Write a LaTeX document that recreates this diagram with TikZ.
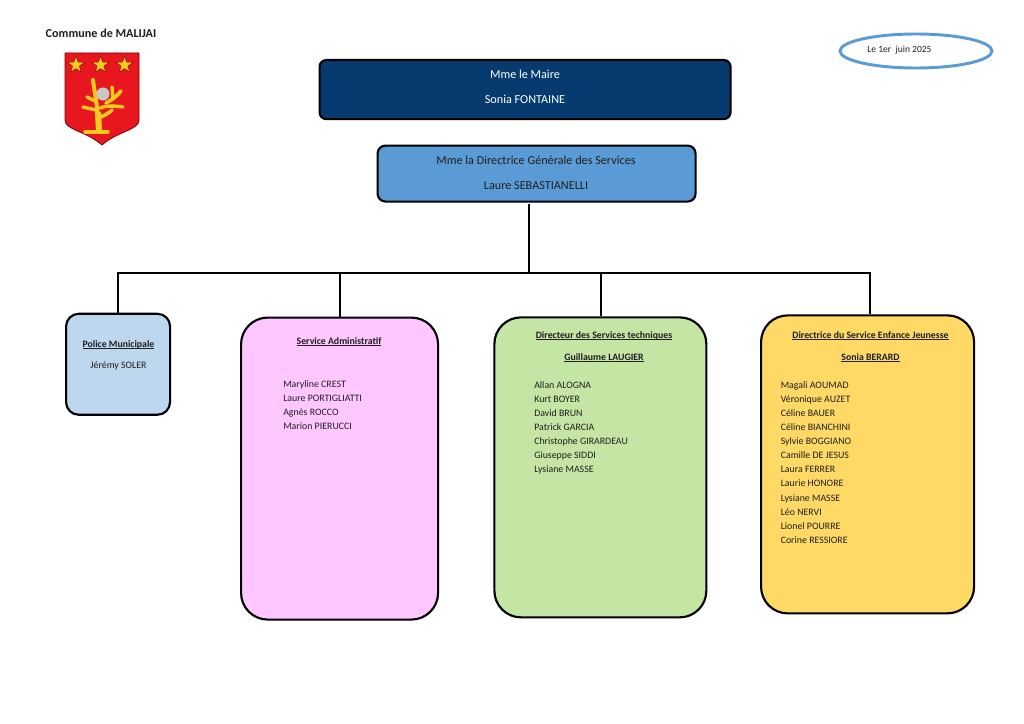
\documentclass[tikz,border=0pt]{standalone}
\usepackage{fontspec}
\setmainfont{Carlito}
\usetikzlibrary{shapes.geometric}
\definecolor{navy}{HTML}{073B6F}
\definecolor{midblue}{HTML}{5B9BD5}
\definecolor{paleblue}{HTML}{BDD7EE}
\definecolor{pinkbox}{HTML}{FFC6FF}
\definecolor{greenbox}{HTML}{C5E5A5}
\definecolor{yellowbox}{HTML}{FFD966}
\definecolor{ink}{HTML}{1F1F1F}
\definecolor{shieldred}{HTML}{E8171F}
\definecolor{gold}{HTML}{F7C81E}
\definecolor{ellblue}{HTML}{5B9BD5}
\newcommand{\bu}[1]{\setbox0\hbox{\textbf{#1}}\rlap{\rule[-1pt]{\wd0}{0.45pt}}\box0}
\tikzset{
  x=0.75pt,y=-0.75pt,
  box/.style={draw=black,line width=1.6pt,rounded corners=#1,inner sep=0pt,anchor=north west},
  box/.default=6pt,
  link/.style={draw=black,line width=1.7pt},
  txt/.style={font=\fontsize{7.4pt}{8pt}\selectfont,text=ink,inner sep=0pt},
  head/.style={font=\fontsize{7.35pt}{8pt}\selectfont,text=ink,inner sep=0pt,anchor=base},
  big/.style={font=\fontsize{9.15pt}{10pt}\selectfont,inner sep=0pt,anchor=base}
}
\begin{document}
\begin{tikzpicture}
\useasboundingbox[fill=white] (0,0) rectangle (1024,724);
% boxes
\node[box=5pt,fill=navy,minimum width=411pt*0.75,minimum height=59pt*0.75] (maire) at (318.5,59) {};
\node[big,text=white] (m1) at (525,79) {Mme le Maire};
\node[big,text=white] (m2) at (525,103.7) {Sonia FONTAINE};
\node[box=6pt,fill=midblue,minimum width=318pt*0.75,minimum height=56pt*0.75] (dgs) at (376.5,144.5) {};
\node[big,text=ink] (d1) at (536,164.3) {Mme la Directrice Générale des Services};
\node[big,text=ink] (d2) at (536,189.3) {Laure SEBASTIANELLI};
% connectors
\coordinate (hub) at (529,273);
\coordinate (hl) at (118,273);
\coordinate (hr) at (870,273);
\coordinate (top) at (529,204);
\coordinate (ha) at (340,273);
\coordinate (ht) at (601,273);
\node[box=9.5pt,fill=paleblue,minimum width=104pt*0.75,minimum height=101pt*0.75] (pm) at (65,312.7) {};
\node[box=20pt,fill=pinkbox,minimum width=197pt*0.75,minimum height=302pt*0.75] (adm) at (240,316.5) {};
\node[box=20pt,fill=greenbox,minimum width=212pt*0.75,minimum height=300pt*0.75] (tech) at (493.3,316.3) {};
\node[box=20pt,fill=yellowbox,minimum width=213pt*0.75,minimum height=298pt*0.75] (enf) at (760,314.3) {};
\draw[link] (top) -- (hub);
\draw[link] (hl |- pm.north) -- (hl) -- (hr) -- (hr |- enf.north);
\draw[link] (ha) -- (ha |- adm.north);
\draw[link] (ht) -- (ht |- tech.north);
% text
\node[head] (pmh) at (118.5,347) {\bu{Police Municipale}};
\node[txt,anchor=base] (pmn) at (118.5,368.5) {Jérémy SOLER};
\node[head] (admh) at (339,344.7) {\bu{Service Administratif}};
\node[head] (techh) at (604,338.3) {\bu{Directeur des Services techniques}};
\node[head] (techg) at (604,360) {\bu{Guillaume LAUGIER}};
\node[head] (enfh) at (870.5,338.3) {\bu{Directrice du Service Enfance Jeunesse}};
\node[head] (enfs) at (870.5,360) {\bu{Sonia BERARD}};
\foreach \n [count=\i from 0] in {Maryline CREST,Laure PORTIGLIATTI,Agnès ROCCO,Marion PIERUCCI}
  \node[txt,anchor=base west] (a\i) at (283,387.5+14.1*\i) {\n};
\foreach \n [count=\i from 0] in {Allan ALOGNA,Kurt BOYER,David BRUN,Patrick GARCIA,Christophe GIRARDEAU,Giuseppe SIDDI,Lysiane MASSE}
  \node[txt,anchor=base west] (t\i) at (534,388.3+14.07*\i) {\n};
\foreach \n [count=\i from 0] in {Magali AOUMAD,Véronique AUZET,Céline BAUER,Céline BIANCHINI,Sylvie BOGGIANO,Camille DE JESUS,Laura FERRER,Laurie HONORE,Lysiane MASSE,Léo NERVI,Lionel POURRE,Corine RESSIORE}
  \node[txt,anchor=base west] (e\i) at (780.5,388.3+14.09*\i) {\n};
% header
\node[font=\fontsize{9.1pt}{10pt}\selectfont\bfseries,text=ink,inner sep=0pt] (title) at (101,33) {Commune de MALIJAI};
\node[draw=ellblue,line width=2.2pt,ellipse,minimum width=152pt*0.75,minimum height=34pt*0.75,inner sep=0pt] (date) at (916,51) {};
\node[font=\fontsize{7.15pt}{8pt}\selectfont,text=ink,inner sep=0pt] (datet) at (899.5,50) {Le 1er\ \ juin 2025};
% shield
\fill[shieldred,draw=black!50!red,line width=0.6pt] (65,53) -- (139,53) -- (139,120) .. controls (139,130) and (118,131) .. (102,145) .. controls (86,131) and (65,130) .. (65,120) -- cycle;
\foreach \c in {76,100.5,124.5}{
  \node[star,star points=5,star point ratio=2.5,fill=gold,draw=black!50!red,line width=0.3pt,minimum size=18pt*0.75,inner sep=0pt] at (\c,65) {};
}
\draw[gold,line width=3pt,line cap=round] (98,132) .. controls (98,125) and (99,118) .. (97,108) .. controls (96,98) and (94,88) .. (93,80);
\draw[gold,line width=4.6pt] (99,131) -- (98,112);
\draw[gold,line width=2.6pt,line cap=round] (85,132) -- (108,132);
\draw[gold,line width=2.6pt,line cap=round] (83,107) -- (96,110);
\draw[gold,line width=2.6pt,line cap=round] (87,97) -- (95,101);
\draw[gold,line width=2.8pt,line cap=round] (98,118) .. controls (104,116) and (109,113) .. (112,110);
\draw[gold,line width=2.6pt,line cap=round] (100,108) .. controls (108,105) and (115,106) .. (123,107);
\draw[gold,line width=2.8pt,line cap=round] (106,103) .. controls (112,100) and (117,96) .. (121,91);
\draw[gold,line width=2.6pt,line cap=round] (113,98) -- (112,87);
\fill[black!22] (103,94) circle (6.5);
\end{tikzpicture}
\end{document}
